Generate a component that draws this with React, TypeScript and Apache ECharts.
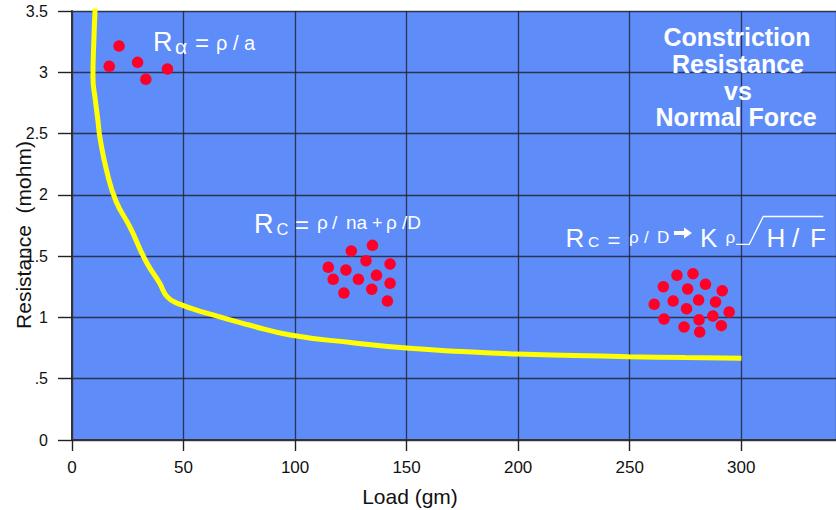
import React, { useEffect, useRef } from "react";
import * as echarts from "echarts";

// ---- Data ----
const xTicks = [0, 50, 100, 150, 200, 250, 300];
const yTickLabels = ["0", ".5", "1", "1.5", "2", "2.5", "3", "3.5"];

const curveLoad = [10.5, 9.8, 9.4, 10.5, 11.6, 12.5, 15.5, 19.7, 25.9, 33.4, 39.3, 42.6, 47.3, 63.2, 79.0, 97.9, 125.0, 151.4, 175.0, 199.1, 225.0, 249.6, 275.0, 300.1];
const curveResistance = [3.58, 3.26, 2.96, 2.77, 2.61, 2.47, 2.2, 1.95, 1.74, 1.45, 1.28, 1.17, 1.115, 1.02, 0.94, 0.857, 0.795, 0.748, 0.722, 0.702, 0.69, 0.68, 0.673, 0.667];

const alphaDotsLoad = [21.1, 16.7, 29.4, 33.1, 42.8];
const alphaDotsRes = [3.214, 3.049, 3.081, 2.943, 3.027];

const midDotsLoad = [134.7, 125.2, 131.8, 114.9, 122.8, 142.6, 136.5, 117.1, 128.4, 142.6, 134.4, 121.9, 141.4];
const midDotsRes = [1.588, 1.542, 1.463, 1.409, 1.387, 1.436, 1.344, 1.311, 1.311, 1.278, 1.23, 1.199, 1.134];

const rightDotsLoad = [271.2, 278.4, 265.1, 276.0, 284.0, 291.5, 261.0, 269.5, 280.9, 288.5, 275.5, 294.6, 265.4, 281.1, 287.3, 274.4, 291.1, 281.4];
const rightDotsRes = [1.344, 1.357, 1.251, 1.232, 1.27, 1.218, 1.107, 1.134, 1.142, 1.126, 1.071, 1.044, 0.987, 0.981, 1.012, 0.922, 0.933, 0.881];

const titleLines = ["Constriction", "Resistance", "vs", "Normal Force"];
const xAxisTitle = "Load (gm)";
const yAxisTitle = "Resistance  (mohm)";

const FONT = '"Liberation Sans", Arial, Helvetica, sans-serif';

const zip = (a: number[], b: number[]) => a.map((v, i) => [v, b[i]]);

function txt(text: string, left: number, baseline: number, size: number, opts: any = {}) {
  const align = opts.align || "left";
  return {
    type: "text",
    x: left,
    y: baseline - 0.3465 * size,
    z: 100,
    silent: true,
    style: {
      text,
      fill: "#ffffff",
      font: `${opts.bold ? "bold " : ""}${size}px ${FONT}`,
      align,
      verticalAlign: "middle",
      textAlign: align,
      textVerticalAlign: "middle",
    },
  };
}

export default function App() {
  const ref = useRef<HTMLDivElement>(null);

  useEffect(() => {
    if (!ref.current) return;
    const chart = echarts.init(ref.current, null, { renderer: "svg" });

    const gridLine = { color: "rgba(35,35,55,0.85)", width: 1.3 };
    const dotStyle = { color: "#FF0028", opacity: 1 };

    const graphics: any[] = [
      // R_alpha = rho / a
      txt("R", 153, 51.7, 27),
      txt("α", 175, 53.3, 21),
      txt("=", 195, 51, 24),
      txt("ρ / a", 216, 50, 20),
      // R_C = rho/na + rho/D
      txt("R", 254, 233.3, 27),
      txt("C", 276.5, 235, 16.5),
      txt("=", 295, 233, 24),
      txt("ρ", 317, 229.5, 19),
      txt("/", 332, 229.5, 19),
      txt("na", 346, 229.5, 19),
      txt("+", 372, 229.5, 18),
      txt("ρ", 386, 229.5, 19),
      txt("/D", 402, 229.5, 19),
      // R_C = rho/D -> K rho sqrt(H/F)
      txt("R", 565.5, 246.7, 26),
      txt("C", 588, 247.3, 15.5),
      txt("=", 607.5, 247.8, 22),
      txt("ρ", 629, 243.3, 17),
      txt("/", 644, 243.3, 17),
      txt("D", 657, 243.3, 17),
      {
        type: "polygon",
        z: 100,
        silent: true,
        shape: { points: [[674, 231], [684, 231], [684, 227.5], [692, 233], [684, 238.5], [684, 235], [674, 235]] },
        style: { fill: "#ffffff" },
      },
      txt("K", 700, 246.7, 26),
      txt("ρ", 725.5, 243, 17),
      {
        type: "polyline",
        z: 100,
        silent: true,
        shape: { points: [[736, 244.3], [749.3, 244.3], [763.3, 216.5], [823.3, 216.5]] },
        style: { stroke: "#ffffff", lineWidth: 1.3, fill: null },
      },
      txt("H", 766.5, 246.7, 26),
      txt("/", 792, 246.7, 26),
      txt("F", 810, 246.7, 26),
      // Title
      txt(titleLines[0], 737, 45.7, 25, { bold: true, align: "center" }),
      txt(titleLines[1], 738, 72.7, 25, { bold: true, align: "center" }),
      txt(titleLines[2], 738, 99.3, 25, { bold: true, align: "center" }),
      txt(titleLines[3], 736, 126, 25, { bold: true, align: "center" }),
      // Axis titles
      {
        type: "text",
        x: 410,
        y: 496,
        silent: true,
        style: {
          text: xAxisTitle,
          fill: "#111111",
          font: `21px ${FONT}`,
          align: "center",
          verticalAlign: "middle",
          textAlign: "center",
          textVerticalAlign: "middle",
        },
      },
      {
        type: "text",
        x: 23.7,
        y: 235,
        rotation: Math.PI / 2,
        silent: true,
        style: {
          text: yAxisTitle,
          fill: "#111111",
          font: `21px ${FONT}`,
          align: "center",
          verticalAlign: "middle",
          textAlign: "center",
          textVerticalAlign: "middle",
        },
      },
    ];

    chart.setOption({
      animation: false,
      grid: {
        left: 72,
        top: 11,
        right: -2,
        bottom: 70,
        show: true,
        backgroundColor: "#5E8DF9",
        borderWidth: 0,
        containLabel: false,
      },
      xAxis: {
        type: "value",
        min: 0,
        max: 342.5,
        interval: 50,
        axisLine: { show: true, onZero: false, lineStyle: { color: "#333333", width: 2 } },
        axisTick: { show: true, length: 11, lineStyle: { color: "#222222", width: 1.4 } },
        axisLabel: {
          fontSize: 17,
          fontFamily: FONT,
          color: "#111111",
          margin: 19,
          showMaxLabel: false,
          formatter: (v: number) => (xTicks.indexOf(v) >= 0 ? String(v) : ""),
        },
        splitLine: { show: true, lineStyle: gridLine },
      },
      yAxis: {
        type: "value",
        min: 0,
        max: 3.5,
        interval: 0.5,
        axisLine: { show: true, lineStyle: { color: "#333333", width: 2 } },
        axisTick: { show: true, length: 14, lineStyle: { color: "#222222", width: 1.4 } },
        axisLabel: {
          fontSize: 16,
          fontFamily: FONT,
          color: "#111111",
          margin: 24,
          formatter: (v: number) => {
            const i = Math.round(v / 0.5);
            return yTickLabels[i] ?? String(v);
          },
        },
        splitLine: { show: true, lineStyle: gridLine },
      },
      series: [
        {
          type: "line",
          data: zip(curveLoad, curveResistance),
          smooth: 0.5,
          showSymbol: false,
          symbol: "none",
          clip: true,
          lineStyle: { color: "#FFFF00", width: 5 },
          z: 3,
        },
        {
          type: "scatter",
          data: zip(alphaDotsLoad, alphaDotsRes),
          symbolSize: 11.5,
          itemStyle: dotStyle,
          z: 4,
        },
        {
          type: "scatter",
          data: zip(midDotsLoad, midDotsRes),
          symbolSize: 11.5,
          itemStyle: dotStyle,
          z: 4,
        },
        {
          type: "scatter",
          data: zip(rightDotsLoad, rightDotsRes),
          symbolSize: 11.5,
          itemStyle: dotStyle,
          z: 4,
        },
      ],
      graphic: graphics,
    });

    return () => {
      chart.dispose();
    };
  }, []);

  return (
    <div
      ref={ref}
      style={{ position: "fixed", left: 0, top: 0, width: 836, height: 510, background: "#ffffff" }}
    />
  );
}
